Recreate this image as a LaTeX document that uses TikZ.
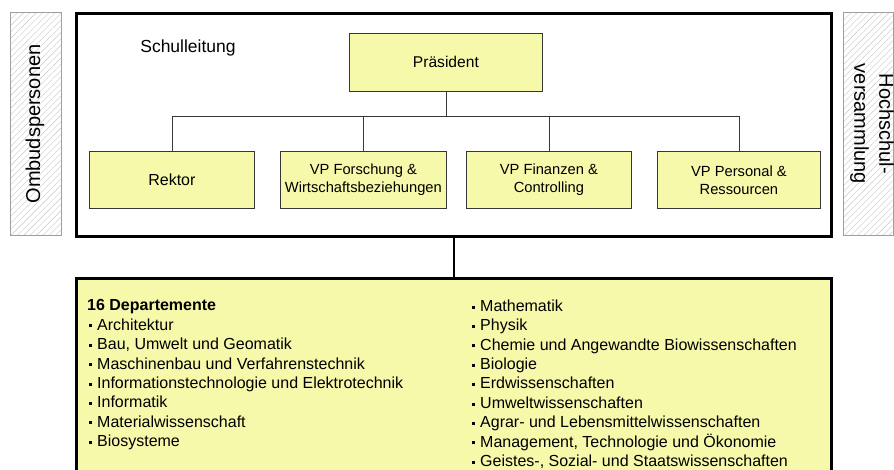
\documentclass[tikz,border=0pt]{standalone}
\usepackage{fontspec}
\setmainfont{Liberation Sans}
\usetikzlibrary{patterns.meta}
\definecolor{boxyellow}{RGB}{246,248,170}
\definecolor{boxline}{RGB}{55,55,55}
\newcommand\bul{\hspace*{2pt}\rule[2.8pt]{3pt}{3pt}\hspace{5pt}}
\begin{document}
\begin{tikzpicture}[x=1pt,y=-1pt,
  box/.style={draw=boxline, line width=0.8pt, fill=boxyellow, inner sep=0pt, align=center,
    anchor=north west, minimum height=57pt, font=\fontsize{14.7}{18}\selectfont},
  side/.style={draw=gray!75, line width=0.6pt, anchor=north west, inner sep=0pt,
    minimum width=51pt, minimum height=223pt,
    pattern={Lines[angle=45,distance=4.5pt,line width=0.4pt]}, pattern color=gray!45},
  sidetext/.style={font=\fontsize{20}{25}\selectfont, align=center, inner sep=0pt},
  conn/.style={draw=boxline, line width=0.8pt},
  frame/.style={draw=black, line width=2.6pt},
  coltext/.style={anchor=north west, align=left, inner sep=0pt, font=\fontsize{16}{19.4}\selectfont}]
\useasboundingbox (0,0) rectangle (894,469);
\clip (0,0) rectangle (894,469);

% side boxes
\node[side] (ombuds) at (10,12) {};
\node[sidetext, rotate=90] (ombudstext) at (35,124) {Ombudspersonen};
\node[side, minimum width=50pt] (hsv) at (843,12) {};
\node[sidetext, rotate=-90] (hsvtext) at (872,124) {Hochschul-\\versammlung};

% main frame
\node[frame, anchor=north west, inner sep=0pt, minimum width=755pt, minimum height=223pt] (main) at (75,12) {};
\node[inner sep=0pt, font=\fontsize{17.5}{21}\selectfont] (sl) at (188,48) {Schulleitung};

% boxes
\node[box, minimum width=193pt, minimum height=58pt, font=\fontsize{15.6}{19}\selectfont] (praes) at (349,33) {Präsident};
\node[box, minimum width=165pt, font=\fontsize{16}{19}\selectfont] (rektor) at (89,151) {Rektor};
\node[box, minimum width=166pt] (vpf) at (280,151) {VP Forschung \&\\Wirtschaftsbeziehungen};
\node[box, minimum width=165pt] (vpfin) at (466,151) {VP Finanzen \&\\Controlling};
\node[box, minimum width=163pt] (vpp) at (657,151) {VP Personal \&\\Ressourcen};

% connectors
\coordinate (bus) at (praes.south |- 0,116);
\draw[conn] (praes.south) -- (bus);
\draw[conn] (rektor.north) |- (bus);
\draw[conn] (vpf.north) |- (bus);
\draw[conn] (vpfin.north) |- (bus);
\draw[conn] (vpp.north) |- (bus);

% departments
\node[frame, fill=boxyellow, anchor=north west, inner sep=0pt, minimum width=755pt, minimum height=230pt] (dep) at (75,277) {};
\draw[frame] (main.south) -- (dep.north);

\node[coltext] (left) at (87,299.5) {\textbf{16 Departemente}\\
\bul Architektur\\
\bul Bau, Umwelt und Geomatik\\
\bul Maschinenbau und Verfahrenstechnik\\
\bul Informationstechnologie und Elektrotechnik\\
\bul Informatik\\
\bul Materialwissenschaft\\
\bul Biosysteme};
\node[coltext] (right) at (470,299.5) {\bul Mathematik\\
\bul Physik\\
\bul Chemie und Angewandte Biowissenschaften\\
\bul Biologie\\
\bul Erdwissenschaften\\
\bul Umweltwissenschaften\\
\bul Agrar- und Lebensmittelwissenschaften\\
\bul Management, Technologie und Ökonomie\\
\bul Geistes-, Sozial- und Staatswissenschaften};
\end{tikzpicture}
\end{document}
